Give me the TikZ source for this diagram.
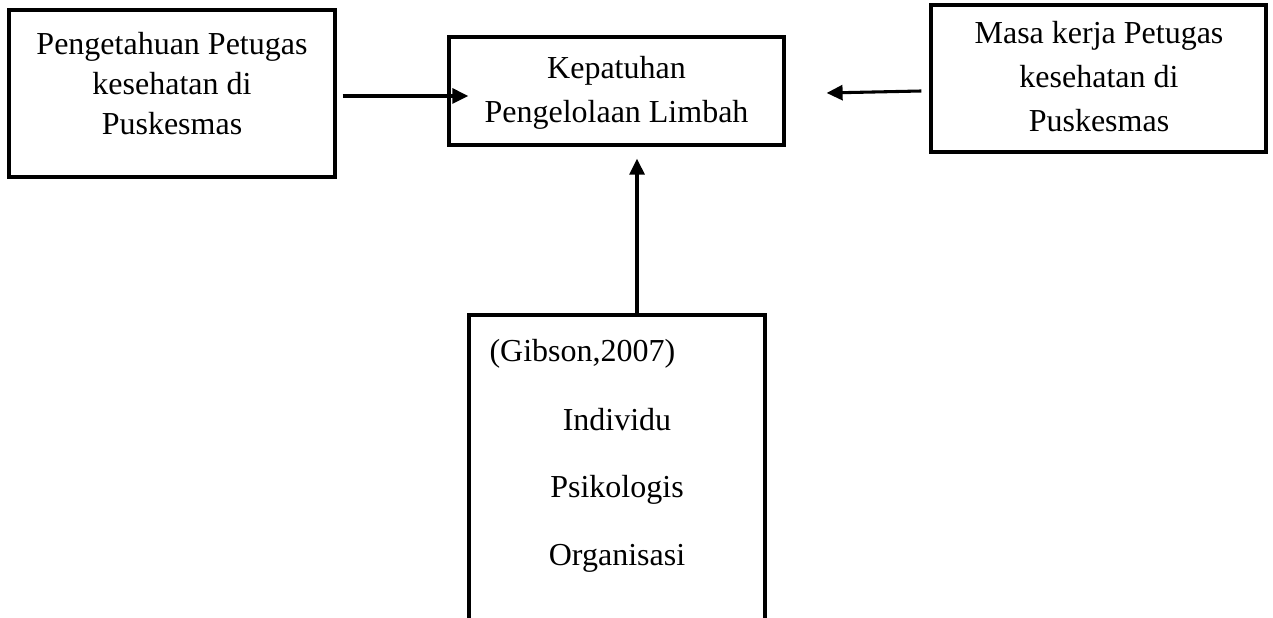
\documentclass[tikz,border=0pt]{standalone}
\usepackage{fontspec}
\setmainfont{Liberation Serif}
\usetikzlibrary{calc}
\usetikzlibrary{fit}
\usetikzlibrary{arrows.meta}
\definecolor{c1}{RGB}{0,0,0}

\tikzset{
    kotak/.style={draw=c1,line width=1.2pt,inner sep=0pt},
    teks/.style={align=center,inner sep=0pt,font=\fontsize{12}{#1}\selectfont},
    teks/.default=15,
    panah/.style={draw=c1,line width=1.15pt,-{Triangle[length=6pt,width=5.6pt]}}
}

\begin{document}
\begin{tikzpicture}[x=0.375pt,y=-0.375pt]
    \useasboundingbox (0,0) rectangle (1273,618);
    \clip (0,0) rectangle (1273,618);
    % kotak kiri
    \node[kotak,fit={(9,10) (335,177)}] (kp) {};
    \node[teks] (kpt) at (172,84) {Pengetahuan Petugas\\kesehatan di\\Puskesmas};
    % kotak tengah
    \node[kotak,fit={(449,37) (784,145)}] (kb) {};
    \node[teks=16.5] (kbt) at (616.5,93) {Kepatuhan\\Pengelolaan Limbah};
    % kotak kanan
    \node[kotak,fit={(931,5) (1266,152)}] (mk) {};
    \node[teks=16.5] (mkt) at (1099,77) {Masa kerja Petugas\\kesehatan di\\Puskesmas};
    % kotak bawah, terbuka ke bawah
    \node[kotak,fit={(469,315) (765,700)}] (gb) {};
    \node[teks,anchor=west] (gbt) at (489,354) {(Gibson,2007)};
    \node[teks] (ind) at (617,420) {Individu};
    \node[teks] (psi) at (617,490) {Psikologis};
    \node[teks] (org) at (617,558) {Organisasi};
    % panah
    \draw[panah] ($(kp.east)+(6,2.5)$) -- ($(kb.west)+(21,5)$);
    \draw[panah] ($(mk.west)+(-8,12.5)$) -- ($(kb.east)+(41,2)$);
    \draw[panah] ($(gb.north)+(20,0)$) -- ($(kb.south)+(20.5,12)$);
\end{tikzpicture}
\end{document}
